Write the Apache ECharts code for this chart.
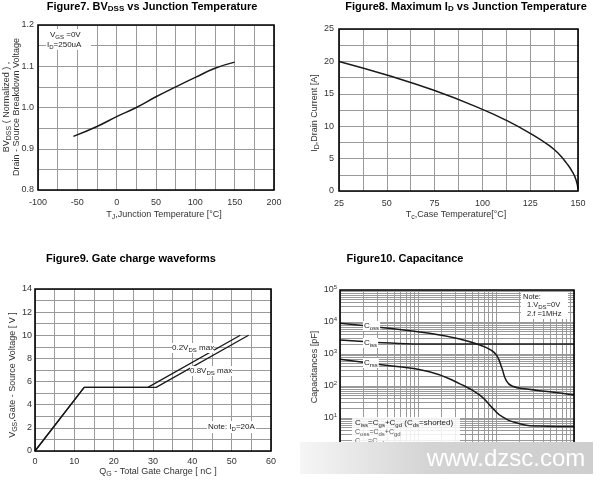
<!DOCTYPE html>
<html><head><meta charset="utf-8">
<script src="https://cdn.jsdelivr.net/npm/echarts@6/dist/echarts.min.js"></script>
<style>html,body{margin:0;padding:0;background:#fff}#c{width:600px;height:484px}</style>
</head><body><div id="c"></div>
<script>
// ---- Figure 7: BVDSS vs Tj ----
const bvTemp = [-55, -25, 0, 25, 50, 75, 100, 125, 150];
const bvNorm = [0.93, 0.954, 0.978, 1.0, 1.026, 1.05, 1.073, 1.095, 1.11];
// ---- Figure 8: ID vs Tc ----
const idTemp = [25, 50, 75, 100, 112.5, 125, 135, 140, 144, 147, 149, 150];
const idCurr = [20, 17.9, 15.5, 12.6, 10.9, 8.9, 7.0, 5.7, 4.3, 3.0, 1.7, 0.3];
// ---- Figure 9: Gate charge ----
const qg02 = [0, 12.5, 28.7, 52.2];
const vgs02 = [0, 5.5, 5.5, 10];
const qg08 = [0, 12.5, 30.8, 54.3];
const vgs08 = [0, 5.5, 5.5, 10];
// ---- Figure 10: Capacitance ----
const vdsCoss = [0.1, 0.36, 1.4, 3.5, 6.2, 8.5, 10.2, 11.9, 13.5, 16, 25, 49, 100];
const coss = [9100, 6600, 4450, 2900, 1900, 1350, 900, 365, 150, 100, 80, 66, 52];
const vdsCiss = [0.1, 0.2, 0.36, 1.4, 10, 100];
const ciss = [2750, 2450, 2250, 2050, 2050, 2050];
const vdsCrss = [0.1, 0.36, 1.4, 3.5, 6.2, 9.1, 12, 18.6, 36, 100];
const crss = [690, 455, 280, 115, 52, 20, 11, 7, 5.6, 5.4];

const L = [
  {left: 38, top: 25, width: 236, height: 165},
  {left: 339, top: 29, width: 239, height: 162},
  {left: 35, top: 289, width: 236, height: 162},
  {left: 340, top: 290, width: 234, height: 160}
];
const FONT = "'Liberation Sans', Arial, sans-serif";
const pairs = (xs, ys) => xs.map((x, i) => [x, ys[i]]);
const grid = '#9a9a9a';
const lab = (fmt, extra) => Object.assign({fontSize: 9, color: '#333', fontFamily: FONT, formatter: fmt}, extra || {});
const baseAxis = (gi, o) => Object.assign({
  gridIndex: gi, type: 'value', axisLine: {show: false}, axisTick: {show: false},
  splitLine: {show: true, lineStyle: {color: grid, width: 1}}
}, o);
const near = (v, m) => Math.abs(v / m - Math.round(v / m)) < 1e-6;
function richFor(fs, color) {
  return {
    sub: {fontSize: Math.round(fs * 0.75), padding: [Math.round(fs * 0.45), 0, 0, 0], fontFamily: FONT, color: color},
    sup: {fontSize: 6, padding: [0, 0, 6, 0], fontFamily: FONT, color: color}
  };
}
function txt(x, y, text, o) {
  o = o || {};
  return {
    type: 'text', x: x, y: y, rotation: o.rot || 0, z: o.z || 50,
    style: {
      text: text, rich: o.rich, fontSize: o.fs || 9, fontFamily: FONT,
      fill: o.color || '#333', align: o.align || 'center', verticalAlign: 'middle',
      backgroundColor: o.bg, padding: o.pad
    }
  };
}

// minor log grid values for figure 10
const xMinor = [], yMinor = [];
[0.1, 1, 10].forEach(d => { for (let k = 2; k <= 9; k++) xMinor.push(+(k * d).toPrecision(3)); });
[1, 10, 100, 1000, 10000].forEach(d => { for (let k = 2; k <= 9; k++) yMinor.push(k * d); });

const chart = echarts.init(document.getElementById('c'));
const titleRich = {
  b: {fontSize: 11, fontWeight: 'bold', fontFamily: FONT, color: '#111'},
  s: {fontSize: 8, fontWeight: 'bold', fontFamily: FONT, color: '#111', padding: [4, 0, 0, 0]}
};
const graphics = [];
L.forEach(g => graphics.push({type: 'rect', z: 40, silent: true,
  shape: {x: g.left, y: g.top, width: g.width, height: g.height},
  style: {fill: 'none', stroke: '#000', lineWidth: 1.6}}));
const titleEl = (x, y, text) => ({type: 'text', x: x, y: y, z: 50,
  style: {text: text, rich: titleRich, align: 'center', verticalAlign: 'middle', font: "bold 11px " + FONT}});
graphics.push(titleEl(152, 7, '{b|Figure7. BV}{s|DSS}{b| vs Junction Temperature}'));
graphics.push(titleEl(466, 7, '{b|Figure8. Maximum I}{s|D}{b| vs Junction Temperature}'));
graphics.push(titleEl(131, 259, '{b|Figure9. Gate charge waveforms}'));
graphics.push(titleEl(405, 259, '{b|Figure10. Capacitance}'));
const r9 = richFor(9, '#333');
const r8 = richFor(8, '#222');
graphics.push(txt(164, 215, 'T{sub|J},Junction Temperature [°C]', {rich: r9}));
graphics.push(txt(7, 107, 'BV{sub|DSS} ( Normalized ) ,', {rich: r9, rot: Math.PI / 2}));
graphics.push(txt(17, 107, 'Drain - Source Breakdown Voltage', {rich: r9, rot: Math.PI / 2}));
graphics.push(txt(456, 215, 'T{sub|c},Case Temperature[°C]', {rich: r9}));
graphics.push(txt(315, 113, 'I{sub|D},Drain Current [A]', {rich: r9, rot: Math.PI / 2}));
graphics.push(txt(158, 472, 'Q{sub|G} - Total Gate Charge [ nC ]', {rich: r9}));
graphics.push(txt(13, 375, 'V{sub|GS},Gate - Source Voltage [ V ]', {rich: r9, rot: Math.PI / 2}));
graphics.push(txt(315, 367, 'Capacitances [pF]', {rich: r9, rot: Math.PI / 2}));
graphics.push({type: 'rect', z: 45, shape: {x: 46, y: 29, width: 45, height: 21}, style: {fill: '#fff'}});
graphics.push(txt(50, 35, 'V{sub|GS} =0V', {rich: r8, fs: 8, align: 'left', color: '#222'}));
graphics.push(txt(47, 45, 'I{sub|D}=250uA', {rich: r8, fs: 8, align: 'left', color: '#222'}));
graphics.push(txt(172, 348, '0.2V{sub|DS} max', {rich: r8, fs: 8, align: 'left', color: '#222', bg: '#fff'}));
graphics.push(txt(190, 371, '0.8V{sub|DS} max', {rich: r8, fs: 8, align: 'left', color: '#222', bg: '#fff'}));
graphics.push(txt(207, 427, 'Note: I{sub|D}=20A', {rich: r8, fs: 8, align: 'left', color: '#222', bg: '#fff', pad: [1, 1, 1, 1]}));
graphics.push({type: 'rect', z: 45, shape: {x: 521, y: 292, width: 47, height: 27}, style: {fill: '#fff'}});
graphics.push(txt(523, 297, 'Note:', {rich: r8, fs: 7.5, align: 'left', color: '#222'}));
graphics.push(txt(527, 305, '1.V{sub|DS}=0V', {rich: r8, fs: 7.5, align: 'left', color: '#222'}));
graphics.push(txt(527, 314, '2.f =1MHz', {rich: r8, fs: 7.5, align: 'left', color: '#222'}));
graphics.push(txt(363, 326, 'C{sub|oss}', {rich: r8, fs: 8, align: 'left', color: '#222', bg: '#fff', pad: [0, 1, 0, 1]}));
graphics.push(txt(363, 343, 'C{sub|iss}', {rich: r8, fs: 8, align: 'left', color: '#222', bg: '#fff', pad: [0, 1, 0, 1]}));
graphics.push(txt(363, 363, 'C{sub|rss}', {rich: r8, fs: 8, align: 'left', color: '#222', bg: '#fff', pad: [0, 1, 0, 1]}));
graphics.push({type: 'rect', z: 45, shape: {x: 352, y: 417, width: 108, height: 30}, style: {fill: 'rgba(255,255,255,0.85)'}});
graphics.push(txt(355, 423, 'C{sub|iss}=C{sub|gs}+C{sub|gd} (C{sub|ds}=shorted)', {rich: r8, fs: 8, align: 'left', color: '#222'}));
graphics.push(txt(355, 432, 'C{sub|oss}=C{sub|ds}+C{sub|gd}', {rich: r8, fs: 7, align: 'left', color: '#555'}));
graphics.push(txt(355, 441, 'C{sub|rss}=C{sub|gd}', {rich: r8, fs: 7, align: 'left', color: '#555'}));
graphics.push({type: 'rect', z: 60, shape: {x: 300, y: 442, width: 293, height: 32},
  style: {fill: {type: 'linear', x: 0, y: 0, x2: 1, y2: 0,
    colorStops: [{offset: 0, color: '#f6f6f6'}, {offset: 0.45, color: '#d3d3d3'}, {offset: 1, color: '#cecece'}]}}});
graphics.push({type: 'text', z: 61, x: 506, y: 459,
  style: {text: 'www.dzsc.com', fontSize: 24, fontFamily: FONT, fill: '#fff', align: 'center', verticalAlign: 'middle'}});

const line = (xi, data, o) => Object.assign({
  type: 'line', xAxisIndex: xi, yAxisIndex: xi, data: data, showSymbol: false, symbol: 'none',
  lineStyle: {color: '#1a1a1a', width: 1.5}, z: 5, silent: true
}, o || {});

chart.setOption({
  animation: false,
  backgroundColor: '#fff',
  grid: L.map(g => Object.assign({show: false}, g)),
  xAxis: [
    baseAxis(0, {min: -100, max: 200, interval: 25, axisLabel: lab(v => near(v, 50) ? String(v) : '', {margin: 8})}),
    baseAxis(1, {min: 25, max: 150, interval: 12.5, axisLabel: lab(v => near(v, 25) ? String(v) : '', {margin: 8})}),
    baseAxis(2, {min: 0, max: 60, interval: 5, axisLabel: lab(v => near(v, 10) ? String(v) : '', {margin: 6})}),
    baseAxis(3, {type: 'log', logBase: 10, min: 0.1, max: 100, axisLabel: {show: false}})
  ],
  yAxis: [
    baseAxis(0, {min: 0.8, max: 1.2, interval: 0.05, axisLabel: lab(v => near(v, 0.1) ? v.toFixed(1) : '', {margin: 4})}),
    baseAxis(1, {min: 0, max: 25, interval: 2.5, axisLabel: lab(v => near(v, 5) ? String(v) : '', {margin: 5})}),
    baseAxis(2, {min: 0, max: 14, interval: 1, axisLabel: lab(v => near(v, 2) ? String(v) : '', {margin: 3})}),
    baseAxis(3, {type: 'log', logBase: 10, min: 1, max: 100000,
      axisLabel: lab(v => '10{sup|' + Math.round(Math.log10(v)) + '}', {margin: 3, rich: {sup: {fontSize: 6, padding: [0, 0, 6, 0], color: '#333', fontFamily: FONT}}})})
  ],
  series: [
    line(0, pairs(bvTemp, bvNorm), {smooth: 0.5}),
    line(1, pairs(idTemp, idCurr), {smooth: 0.5}),
    line(2, pairs(qg02, vgs02), {lineStyle: {color: '#1a1a1a', width: 1.3}}),
    line(2, pairs(qg08, vgs08), {lineStyle: {color: '#1a1a1a', width: 1.3}}),
    line(3, [[0.1, 1]], {lineStyle: {opacity: 0}, z: 2,
      markLine: {silent: true, symbol: ['none', 'none'], label: {show: false}, animation: false,
        lineStyle: {color: grid, width: 1, type: 'solid'},
        data: xMinor.map(v => ({xAxis: v})).concat(yMinor.map(v => ({yAxis: v})))}}),
    line(3, pairs(vdsCoss, coss), {smooth: 0.5}),
    line(3, pairs(vdsCiss, ciss), {smooth: 0.5}),
    line(3, pairs(vdsCrss, crss), {smooth: 0.5})
  ],
  graphic: {elements: graphics}
});
</script></body></html>
